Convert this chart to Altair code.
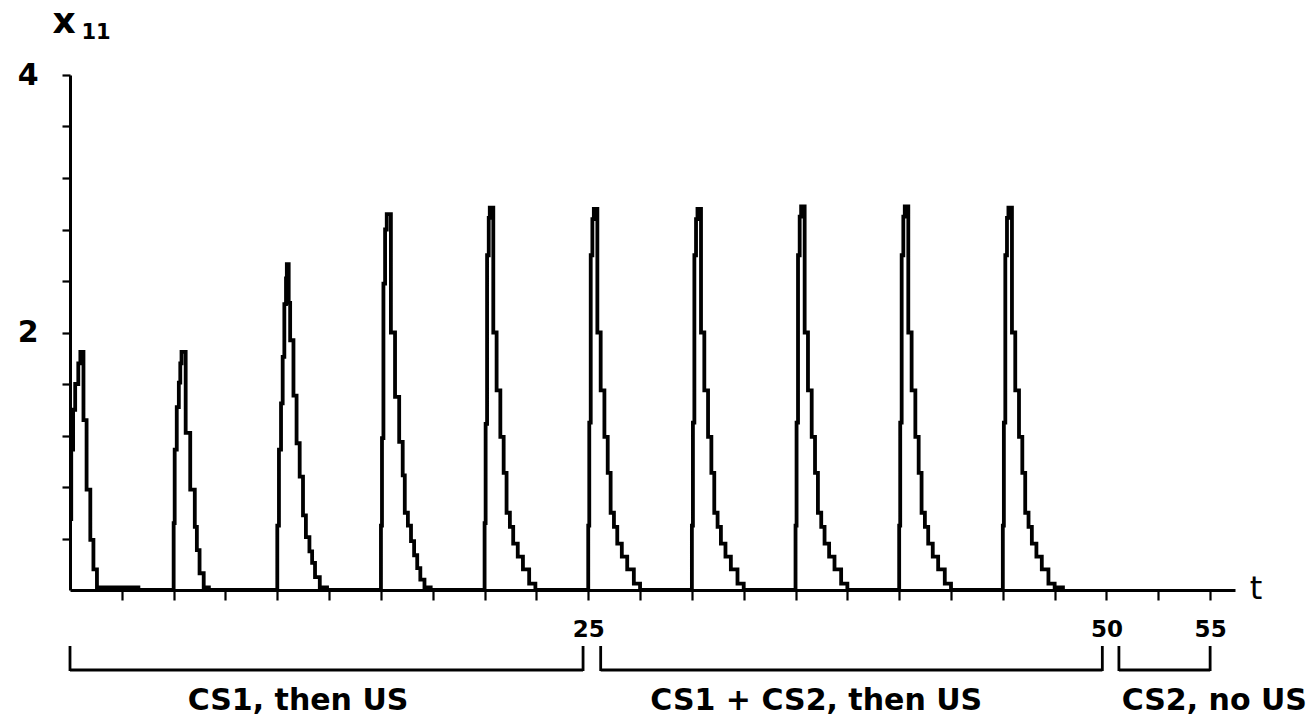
import altair as alt
import pandas as pd

# ---- data -----------------------------------------------------------------
trial_onsets = [0, 5, 10, 15, 20, 25, 30, 35, 40, 45]

trial_offsets = [
    [0.0, 0.06, 0.15, 0.25, 0.40, 0.50, 0.65, 0.80, 0.98, 1.13, 1.30, 3.30],
    [0.0, 0.05, 0.15, 0.25, 0.32, 0.38, 0.58, 0.80, 1.02, 1.12, 1.25, 1.45, 1.70],
    [0.0, 0.08, 0.18, 0.26, 0.34, 0.42, 0.46, 0.55, 0.62, 0.78, 0.93, 1.08, 1.24, 1.38, 1.55, 1.68, 1.82, 2.05, 2.40],
    [0.0, 0.05, 0.12, 0.20, 0.28, 0.48, 0.68, 0.88, 1.05, 1.15, 1.30, 1.45, 1.60, 1.75, 1.90, 2.10, 2.40],
    [0.0, 0.05, 0.12, 0.20, 0.25, 0.42, 0.58, 0.76, 0.92, 1.06, 1.22, 1.38, 1.60, 1.85, 2.15, 2.45],
    [0.0, 0.05, 0.12, 0.20, 0.27, 0.44, 0.60, 0.78, 0.94, 1.08, 1.24, 1.40, 1.62, 1.88, 2.20, 2.50],
    [0.0, 0.05, 0.12, 0.20, 0.27, 0.44, 0.60, 0.78, 0.94, 1.08, 1.24, 1.40, 1.62, 1.88, 2.20, 2.50],
    [0.0, 0.05, 0.12, 0.20, 0.27, 0.44, 0.60, 0.78, 0.94, 1.08, 1.24, 1.40, 1.62, 1.88, 2.20, 2.50],
    [0.0, 0.05, 0.12, 0.20, 0.27, 0.44, 0.60, 0.78, 0.94, 1.08, 1.24, 1.40, 1.62, 1.88, 2.20, 2.50],
    [0.0, 0.05, 0.12, 0.20, 0.27, 0.44, 0.60, 0.78, 0.94, 1.08, 1.24, 1.40, 1.62, 1.88, 2.20, 2.50, 2.90],
]

trial_values = [
    [0.55, 1.09, 1.40, 1.60, 1.76, 1.85, 1.32, 0.78, 0.39, 0.16, 0.02, 0.0],
    [0.52, 1.09, 1.42, 1.61, 1.76, 1.85, 1.22, 0.78, 0.49, 0.31, 0.13, 0.02, 0.0],
    [0.50, 1.09, 1.45, 1.81, 2.22, 2.42, 2.53, 2.23, 1.94, 1.51, 1.14, 0.88, 0.58, 0.41, 0.30, 0.21, 0.10, 0.02, 0.0],
    [0.50, 1.18, 2.38, 2.80, 2.92, 2.00, 1.50, 1.15, 0.89, 0.60, 0.50, 0.38, 0.27, 0.17, 0.08, 0.02, 0.0],
    [0.52, 1.29, 2.60, 2.89, 2.97, 2.00, 1.55, 1.19, 0.91, 0.60, 0.49, 0.36, 0.26, 0.16, 0.05, 0.0],
    [0.50, 1.30, 2.60, 2.88, 2.96, 2.00, 1.55, 1.19, 0.91, 0.60, 0.49, 0.36, 0.26, 0.16, 0.05, 0.0],
    [0.50, 1.30, 2.60, 2.88, 2.96, 2.00, 1.55, 1.19, 0.91, 0.60, 0.49, 0.36, 0.26, 0.16, 0.05, 0.0],
    [0.50, 1.30, 2.60, 2.90, 2.98, 2.00, 1.55, 1.19, 0.91, 0.60, 0.49, 0.36, 0.26, 0.16, 0.05, 0.0],
    [0.50, 1.30, 2.60, 2.90, 2.98, 2.00, 1.55, 1.19, 0.91, 0.60, 0.49, 0.36, 0.26, 0.16, 0.05, 0.0],
    [0.50, 1.30, 2.60, 2.89, 2.97, 2.00, 1.55, 1.19, 0.91, 0.60, 0.49, 0.36, 0.26, 0.16, 0.05, 0.02, 0.0],
]

x_tick_values = [2.5, 5, 7.5, 10, 12.5, 15, 17.5, 20, 22.5, 25, 27.5, 30, 32.5, 35,
                 37.5, 40, 42.5, 45, 47.5, 50, 52.5, 55]
x_labelled = [25, 50, 55]
y_tick_values = [0.4, 0.8, 1.2, 1.6, 2, 2.4, 2.8, 3.2, 3.6, 4]
y_labelled = [2, 4]

phase_labels = ["CS1, then US", "CS1 + CS2, then US", "CS2, no US"]
bracket_start = [0.0, 25.6, 50.6]
bracket_end = [24.75, 49.8, 55.0]
label_t = [11.0, 36.0, 55.2]

# ---- tables -----------------------------------------------------------------
rows = []
for onset, offs, vals in zip(trial_onsets, trial_offsets, trial_values):
    for o, v in zip(offs, vals):
        rows.append({"t": onset + o, "x11": v})
curve = pd.DataFrame(rows)

phases = pd.DataFrame({
    "label": phase_labels,
    "start": bracket_start,
    "end": bracket_end,
    "mid": label_t,
})

FONT = "DejaVu Sans"
xscale = alt.Scale(domain=[0, 56.2], nice=False, zero=False)
yscale = alt.Scale(domain=[0, 4], nice=False)

x_expr = " || ".join(f"datum.value == {v}" for v in x_labelled)
y_expr = " || ".join(f"datum.value == {v}" for v in y_labelled)

line = alt.Chart(curve).mark_line(
    color="black", strokeWidth=3.8, interpolate="step-after", strokeJoin="miter"
).encode(
    x=alt.X("t:Q", scale=xscale, axis=alt.Axis(
        values=x_tick_values, title=None, grid=False, format="d",
        labelExpr=f"({x_expr}) ? datum.label : ''",
        tickSize=10, tickWidth=2.2, tickColor="black",
        domainColor="black", domainWidth=3,
        labelFontSize=23, labelFontWeight="bold", labelFont=FONT,
        labelColor="black", labelPadding=18, labelFlush=False,
        labelOverlap=False,
    )),
    y=alt.Y("x11:Q", scale=yscale, axis=alt.Axis(
        values=y_tick_values, title=None, grid=False, format=".0f",
        labelExpr=f"({y_expr}) ? datum.label : ''",
        tickSize=8, tickWidth=2.2, tickColor="black",
        domainColor="black", domainWidth=3,
        labelFontSize=30, labelFontWeight="bold", labelFont=FONT,
        labelColor="black", labelPadding=24, labelFlush=False,
        labelOverlap=False,
    )),
)

bar_y = 595
top_y = 571

hrule = alt.Chart(phases).mark_rule(color="black", strokeWidth=2.8).encode(
    x=alt.X("start:Q", scale=xscale), x2="end:Q", y=alt.value(bar_y)
)
lrule = alt.Chart(phases).mark_rule(color="black", strokeWidth=2.8).encode(
    x=alt.X("start:Q", scale=xscale), y=alt.value(top_y), y2=alt.value(bar_y + 1)
)
rrule = alt.Chart(phases).mark_rule(color="black", strokeWidth=2.8).encode(
    x=alt.X("end:Q", scale=xscale), y=alt.value(top_y), y2=alt.value(bar_y + 1)
)
ptext = alt.Chart(phases).mark_text(
    font=FONT, fontSize=30, fontWeight="bold", color="black", baseline="middle"
).encode(
    x=alt.X("mid:Q", scale=xscale), y=alt.value(626), text="label:N"
)

ann = pd.DataFrame({"k": [0]})
x_lbl = alt.Chart(ann).mark_text(
    text="x", font=FONT, fontSize=36, fontWeight="bold", color="black",
    baseline="alphabetic"
).encode(x=alt.value(-6), y=alt.value(-42))
sub_lbl = alt.Chart(ann).mark_text(
    text="11", font=FONT, fontSize=21, fontWeight="bold", color="black",
    baseline="alphabetic"
).encode(x=alt.value(26), y=alt.value(-36))
t_lbl = alt.Chart(ann).mark_text(
    text="t", font=FONT, fontSize=32, color="black", baseline="middle"
).encode(x=alt.value(1186), y=alt.value(514))

chart = alt.layer(
    line, hrule, lrule, rrule, ptext, x_lbl, sub_lbl, t_lbl
).properties(
    width=1165, height=515,
    autosize=alt.AutoSizeParams(type="none"),
    padding={"left": 70, "top": 75, "right": 79, "bottom": 131},
    background="white",
).configure_view(stroke=None)

chart.save("out.html", embed_options={"renderer": "svg", "actions": False})
